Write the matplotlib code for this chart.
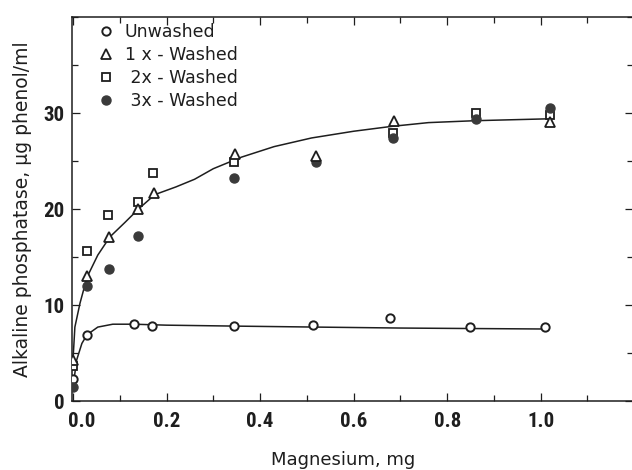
import numpy as np
import matplotlib
matplotlib.use('Agg')
from matplotlib import pyplot as plt
from matplotlib import font_manager as fm
from matplotlib import transforms as mtransforms
from matplotlib.ticker import MultipleLocator
from matplotlib.lines import Line2D

unwashed_x = [0.0, 0.03, 0.130, 0.168, 0.345, 0.513, 0.677, 0.848, 1.01]
unwashed_y = [2.3, 6.9, 8.0, 7.8, 7.8, 7.9, 8.6, 7.7, 7.7]

washed1_x = [0.0, 0.03, 0.078, 0.14, 0.173, 0.346, 0.52, 0.686, 1.02]
washed1_y = [4.3, 13.0, 17.1, 20.0, 21.7, 25.7, 25.5, 29.2, 29.1]

washed2_x = [0.0, 0.03, 0.075, 0.14, 0.17, 0.345, 0.685, 0.861, 1.02]
washed2_y = [3.6, 15.6, 19.4, 20.7, 23.8, 24.9, 27.9, 30.0, 29.8]

washed3_x = [0.0, 0.03, 0.078, 0.14, 0.345, 0.52, 0.685, 0.861, 1.02]
washed3_y = [1.5, 12.0, 13.75, 17.2, 23.2, 24.9, 27.4, 29.4, 30.5]

# hand drawn fitted curves, traced point by point
fit_low_x = [0.0, 0.008, 0.019, 0.03, 0.053, 0.085, 0.13, 0.2, 0.35, 0.52, 0.7, 0.85, 1.01]
fit_low_y = [1.5, 4.3, 6.0, 6.9, 7.7, 8.0, 8.0, 7.9, 7.8, 7.7, 7.6, 7.55, 7.5]

fit_high_x = [0.0, 0.004, 0.015, 0.03, 0.053, 0.079, 0.111, 0.14, 0.175, 0.22, 0.26,
              0.30, 0.36, 0.43, 0.51, 0.60, 0.68, 0.76, 0.86, 0.94, 1.02]
fit_high_y = [4.3, 7.7, 10.2, 12.9, 15.2, 17.1, 18.6, 20.0, 21.5, 22.3, 23.1,
              24.2, 25.4, 26.5, 27.4, 28.1, 28.6, 29.0, 29.2, 29.3, 29.4]

x_ticks = [0.0, 0.2, 0.4, 0.6, 0.8, 1.0]
y_ticks = [0, 10, 20, 30]
legend_labels = ['Unwashed', '1 x - Washed', ' 2x - Washed', ' 3x - Washed']

INK = '#1e1e1e'
TEXT_FONT = ['DejaVu Sans']


def narrow_bold_font():
    # the tick numbers in the scan are a tall condensed bold face
    wanted = ['Liberation Sans Narrow', 'Roboto Condensed', 'DejaVu Sans Condensed',
              'Open Sans Condensed', 'Noto Sans Condensed', 'Arial Narrow']
    cands = []
    for f in fm.fontManager.ttflist:
        narrow = ('Narrow' in f.name or 'Condensed' in f.name or
                  f.stretch in ('condensed', 'semi-condensed', 'extra-condensed')
                  or 'Condensed' in f.fname or 'Narrow' in f.fname)
        if not narrow or f.style != 'normal':
            continue
        try:
            w = int(f.weight)
        except ValueError:
            w = 700 if 'bold' in str(f.weight) else 400
        rank = len(wanted)
        for i, n in enumerate(wanted):
            if n.split()[0] in f.name:
                rank = i
                break
        cands.append((rank, abs(w - 700), f.fname))
    if cands:
        cands.sort()
        return fm.FontProperties(fname=cands[0][2], size=15)
    return fm.FontProperties(family='DejaVu Sans', weight='bold', size=12)


tick_font = narrow_bold_font()

fig = plt.figure(figsize=(6.32, 4.70), dpi=100)
ax = fig.add_axes([0.1133, 0.1468, 0.888, 0.817])

ax.plot(fit_low_x, fit_low_y, color=INK, lw=1.1, zorder=2)
ax.plot(fit_high_x, fit_high_y, color=INK, lw=1.1, zorder=2)

ax.plot(unwashed_x, unwashed_y, 'o', ms=6, mfc='white', mec=INK, mew=1.4, zorder=3)
ax.plot(washed1_x, washed1_y, '^', ms=7, mfc='white', mec=INK, mew=1.3, zorder=4)
ax.plot(washed2_x, washed2_y, 's', ms=5.5, mfc='white', mec=INK, mew=1.3, zorder=3)
ax.plot(washed3_x, washed3_y, 'o', ms=6.5, mfc='#3a3a3a', mec='#3a3a3a', zorder=3)

ax.set_xlim(-0.003, 1.197)
ax.set_ylim(0, 40)

ax.set_xticks(x_ticks)
ax.set_xticklabels(['%.1f' % v for v in x_ticks])
ax.xaxis.set_minor_locator(MultipleLocator(0.1))
ax.set_yticks(y_ticks)
ax.set_yticklabels([str(v) for v in y_ticks])
ax.yaxis.set_minor_locator(MultipleLocator(5))

ax.tick_params(which='both', direction='in', color=INK, width=0.9,
               top=True, right=True)
ax.tick_params(which='major', length=6)
ax.tick_params(which='minor', length=4)
ax.tick_params(axis='x', pad=8)
ax.tick_params(axis='y', pad=5)
for lab in ax.get_xticklabels() + ax.get_yticklabels():
    lab.set_fontproperties(tick_font)
    lab.set_color(INK)
# the first x label sits a bit right of its tick, clear of the y "0"
first = ax.get_xticklabels()[0]
first.set_transform(first.get_transform() +
                    mtransforms.ScaledTranslation(0.09, 0, fig.dpi_scale_trans))

for side in ['left', 'bottom', 'top']:
    ax.spines[side].set_linewidth(1.1)
    ax.spines[side].set_color(INK)
ax.spines['right'].set_visible(False)

ax.set_xlabel('Magnesium, mg', family=TEXT_FONT, fontsize=13, color=INK)
ax.set_ylabel('Alkaline phosphatase, \u03bcg phenol/ml', family=TEXT_FONT,
              fontsize=13.5, color=INK)
ax.xaxis.set_label_coords(0.483, -0.13)
ax.yaxis.set_label_coords(-0.071, 0.5)

handles = [
    Line2D([], [], ls='none', marker='o', ms=6, mfc='white', mec=INK, mew=1.4),
    Line2D([], [], ls='none', marker='^', ms=7, mfc='white', mec=INK, mew=1.3),
    Line2D([], [], ls='none', marker='s', ms=5.5, mfc='white', mec=INK, mew=1.3),
    Line2D([], [], ls='none', marker='o', ms=6.5, mfc='#3a3a3a', mec='#3a3a3a'),
]
leg = ax.legend(handles, legend_labels, loc='upper left', bbox_to_anchor=(0.031, 1.008),
                frameon=False, borderpad=0, handlelength=1.0, handletextpad=0.55,
                labelspacing=0.3, prop={'family': TEXT_FONT, 'size': 12.5})
for t in leg.get_texts():
    t.set_color(INK)

fig.savefig('out.png', dpi=100)
